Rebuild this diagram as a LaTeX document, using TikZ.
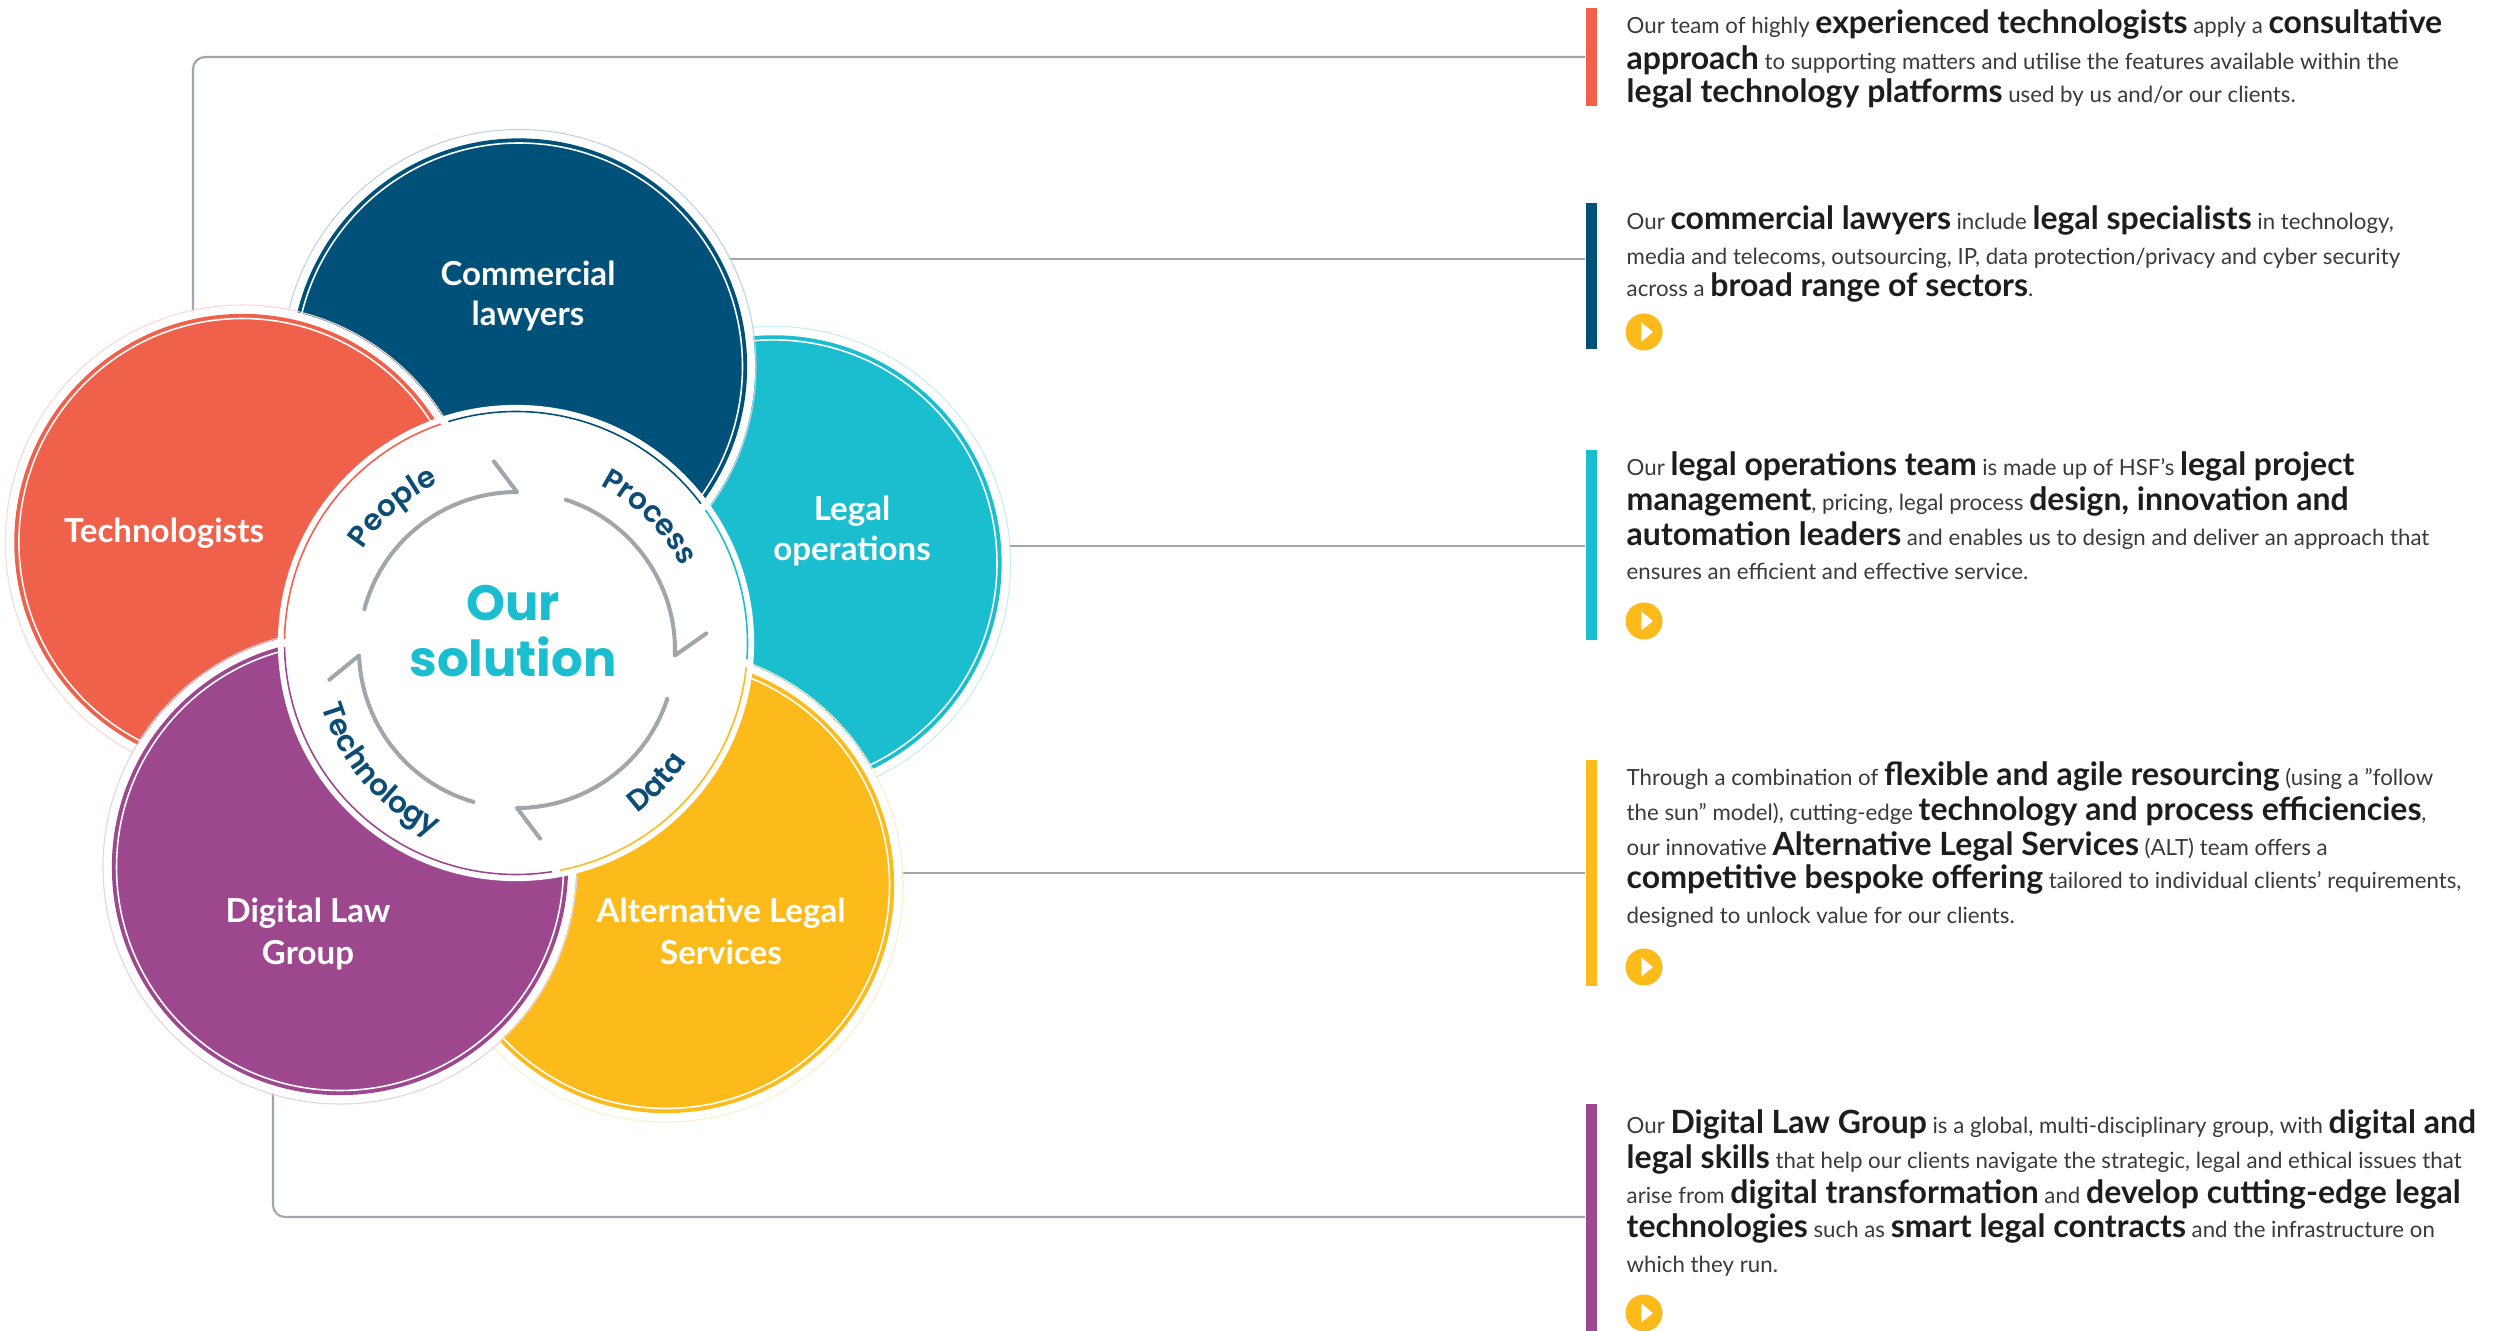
\documentclass[tikz,border=0pt]{standalone}
\usepackage{fontspec}
\setmainfont{Lato}
\newfontfamily\popfont{Poppins}
\newfontfamily\arcfont[LetterSpace=9]{Poppins SemiBold}
\usetikzlibrary{decorations.text}
\definecolor{cred}{HTML}{F0614C}
\definecolor{cblue}{HTML}{005179}
\definecolor{ccyan}{HTML}{1ABECF}
\definecolor{cyel}{HTML}{FDBB1B}
\definecolor{cpur}{HTML}{9C478E}
\definecolor{cgrey}{HTML}{A0A6AA}
\definecolor{cnavy}{HTML}{0D4D75}
\definecolor{ctext}{HTML}{1D1D1B}
\definecolor{ctexttwo}{HTML}{3A3A39}
\newcommand\hb[1]{{\fontsize{9.1pt}{10pt}\selectfont\bfseries\color{ctext}#1}}
\newcommand\sq{\char"22\relax}
\newcommand\ap{\char"27\relax}
\newcommand\mybubble[3]{%
  \fill[white] #2 circle (236);
  \draw[#3!25, line width=0.3pt] #2 circle (237);
  \node[bubble, fill=#3] (#1) at #2 {};
  \draw[white, line width=0.45pt] (#1.center) circle (223.5);
}
\begin{document}
\begin{tikzpicture}[x=0.01cm,y=0.01cm,
  conn/.style={draw=cgrey, line width=0.6pt, rounded corners=0.12cm},
  bubble/.style={circle, inner sep=0pt, minimum size=4.56cm, draw=none},
  bubblelab/.style={anchor=base, inner sep=0pt, text=white, font=\fontsize{9.4pt}{11pt}\selectfont\bfseries},
  barbox/.style={anchor=north west, inner sep=0pt, minimum width=0.11cm, draw=none},
  tline/.style={anchor=base west, inner sep=0pt, text=ctexttwo, font=\fontsize{6.33pt}{10pt}\selectfont},
  playicon/.style={circle, fill=cyel, inner sep=0pt, minimum size=0.37cm,
    path picture={\fill[white] ([xshift=-0.026cm,yshift=0.095cm]path picture bounding box.center) -- ++(0cm,-0.19cm) -- ++(0.116cm,0.095cm) -- cycle;}},
  cyclearrow/.style={draw=cgrey, line width=1.15pt, line cap=round, line join=round},
  solution/.style={anchor=base, inner sep=0pt, text=ccyan, font=\popfont\bfseries\fontsize{14.1pt}{16pt}\selectfont},
  arctext/.style={decorate, decoration={text along path, text align=center, text={|\arcfont\fontsize{8.4pt}{8pt}\selectfont\color{cnavy}|#1}}}
]
\fill[white] (0,0) rectangle (2494,-1331);
\useasboundingbox (0,0) rectangle (2494,-1331);

% bars
\node[barbox, fill=cred,  minimum height=0.98cm] (bar1) at (1585,-7) {};
\node[barbox, fill=cblue, minimum height=1.46cm] (bar2) at (1585,-202) {};
\node[barbox, fill=ccyan, minimum height=1.90cm] (bar3) at (1585,-449) {};
\node[barbox, fill=cyel,  minimum height=2.26cm] (bar4) at (1585,-759) {};
\node[barbox, fill=cpur,  minimum height=2.28cm] (bar5) at (1585,-1103) {};

% connectors
\coordinate (s1) at (193,-330);  \coordinate (e1) at (1585,-57);
\coordinate (s2) at (700,-259);  \coordinate (e2) at (1585,-259);
\coordinate (s3) at (990,-546);  \coordinate (e3) at (1585,-546);
\coordinate (s4) at (880,-873);  \coordinate (e4) at (1585,-873);
\coordinate (s5) at (273,-1080); \coordinate (e5) at (1585,-1217);
\draw[conn] (s1) |- (e1);
\draw[conn] (s2) -- (e2);
\draw[conn] (s3) -- (e3);
\draw[conn] (s4) -- (e4);
\draw[conn] (s5) |- (e5);

% bubbles
\mybubble{legalops}{(773.5,-563.4)}{ccyan}
\mybubble{commercial}{(519,-366.5)}{cblue}
\mybubble{technologists}{(242.4,-542)}{cred}
\mybubble{alt}{(666,-885)}{cyel}
\mybubble{digital}{(340,-867)}{cpur}

% centre disk
\node[circle, fill=white, inner sep=0pt, minimum size=4.76cm] (centre) at (516,-643) {};
\begin{scope}[shift={(516,-643)}, line width=0.45pt]
  \draw[cred]  (109:231.5) arc[start angle=109, end angle=179, radius=231.5];
  \draw[cpur]  (181:231.5) arc[start angle=181, end angle=279, radius=231.5];
  \draw[cyel]  (281:231.5) arc[start angle=281, end angle=354, radius=231.5];
  \draw[ccyan] (-4:231.5) arc[start angle=-4, end angle=35, radius=231.5];
  \draw[cblue] (37:231.5) arc[start angle=37, end angle=107, radius=231.5];
\end{scope}

\begin{scope}[shift={(517,-650)}]
  \draw[cyclearrow] (165:158) arc[start angle=165, end angle=90, radius=158] -- (97:190);
  \draw[cyclearrow] (72:158) arc[start angle=72, end angle=-2, radius=158] -- (5:190);
  \draw[cyclearrow] (-18:158) arc[start angle=-18, end angle=-90, radius=158] -- (-83:190);
  \draw[cyclearrow] (-106:158) arc[start angle=-106, end angle=-178, radius=158] -- (-171:190);
  \path[arctext=People] (175:184) arc[start angle=175, end angle=87, radius=184];
  \path[arctext=Process] (89:184) arc[start angle=89, end angle=1, radius=184];
  \path[arctext=Data] (-82:203) arc[start angle=-82, end angle=-5, radius=203];
  \path[arctext=Technology] (-182:203) arc[start angle=-182, end angle=-96, radius=203];
\end{scope}

\node[solution] (sol1) at (513,-621) {Our};
\node[solution] (sol2) at (513,-677) {solution};

% bubble labels
\node[bubblelab] (lb1) at (528,-286) {Commercial};
\node[bubblelab] (lb2) at (528,-326) {lawyers};
\node[bubblelab] (lr1) at (164,-543) {Technologists};
\node[bubblelab] (lc1) at (852,-520.6) {Legal};
\node[bubblelab] (lc2) at (852,-561) {operations};
\node[bubblelab] (lp1) at (308,-922.5) {Digital Law};
\node[bubblelab] (lp2) at (308,-964) {Group};
\node[bubblelab] (ly1) at (721,-922.5) {Alternative Legal};
\node[bubblelab] (ly2) at (721,-964) {Services};

% text blocks
\node[tline] (t1a) at (1626,-34) {Our team of highly \hb{experienced technologists} apply a \hb{consultative}};
\node[tline] (t1b) at (1626,-70) {\hb{approach} to supporting matters and utilise the features available within the};
\node[tline] (t1c) at (1626,-103) {\hb{legal technology platforms} used by us and/or our clients.};

\node[tline] (t2a) at (1626,-230) {Our \hb{commercial lawyers} include \hb{legal specialists} in technology,};
\node[tline] (t2b) at (1626,-265) {media and telecoms, outsourcing, IP, data protection/privacy and cyber security};
\node[tline] (t2c) at (1626,-297) {across a \hb{broad range of sectors}.};
\node[playicon] (p2) at (1644,-332) {};

\node[tline] (t3a) at (1626,-476) {Our \hb{legal operations team} is made up of HSF’s \hb{legal project}};
\node[tline] (t3b) at (1626,-511) {\hb{management}, pricing, legal process \hb{design, innovation and}};
\node[tline] (t3c) at (1626,-546) {\hb{automation leaders} and enables us to design and deliver an approach that};
\node[tline] (t3d) at (1626,-580) {ensures an efficient and effective service.};
\node[playicon] (p3) at (1644,-621) {};

\node[tline] (t4a) at (1626,-785) {Through a combination of \hb{flexible and agile resourcing} (using a \sq follow};
\node[tline] (t4b) at (1626,-820) {the sun\sq\ model), cutting-edge \hb{technology and process efficiencies},};
\node[tline] (t4c) at (1626,-855) {our innovative \hb{Alternative Legal Services} (ALT) team offers a};
\node[tline] (t4d) at (1626,-888) {\hb{competitive bespoke offering} tailored to individual clients\ap\ requirements,};
\node[tline] (t4e) at (1626,-923) {designed to unlock value for our clients.};
\node[playicon] (p4) at (1644,-967) {};

\node[tline] (t5a) at (1626,-1133) {Our \hb{Digital Law Group} is a global, multi-disciplinary group, with \hb{digital and}};
\node[tline] (t5b) at (1626,-1168) {\hb{legal skills} that help our clients navigate the strategic, legal and ethical issues that};
\node[tline] (t5c) at (1626,-1203) {arise from \hb{digital transformation} and \hb{develop cutting-edge legal}};
\node[tline] (t5d) at (1626,-1237) {\hb{technologies} such as \hb{smart legal contracts} and the infrastructure on};
\node[tline] (t5e) at (1626,-1272) {which they run.};
\node[playicon] (p5) at (1644,-1313) {};
\end{tikzpicture}
\end{document}
